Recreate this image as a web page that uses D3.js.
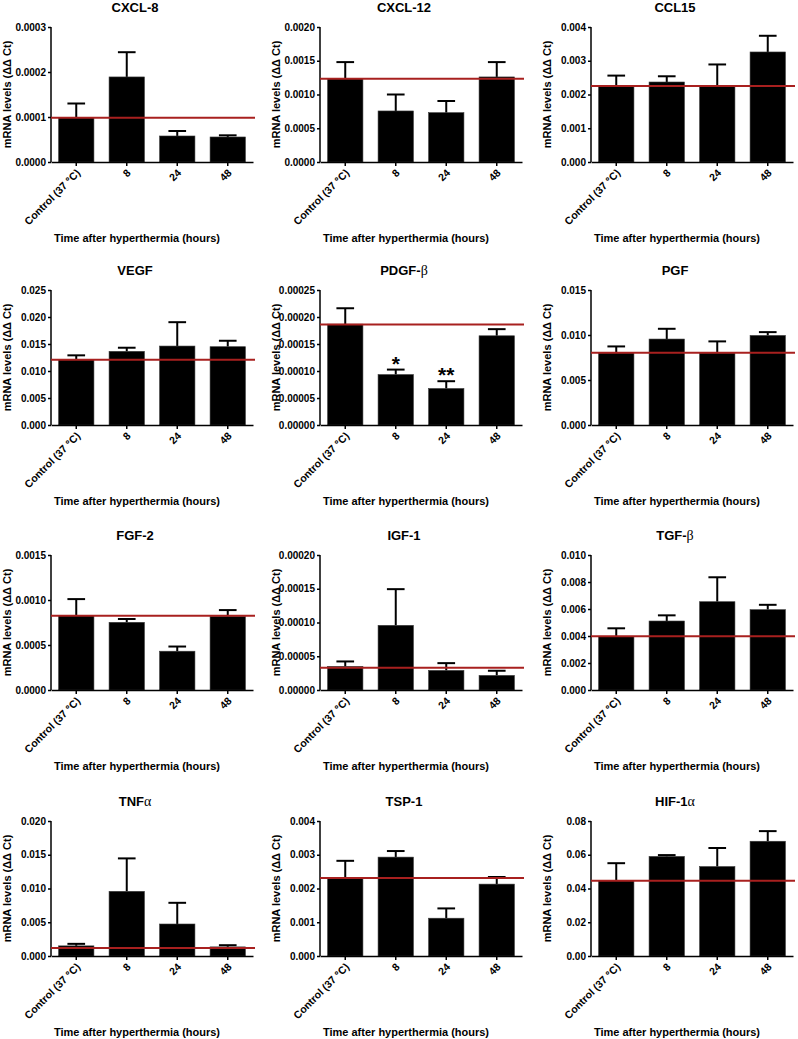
<!DOCTYPE html>
<html>
<head>
<meta charset="utf-8">
<script src="https://cdn.jsdelivr.net/npm/d3@7"></script>
<style>
  html, body { margin: 0; padding: 0; background: #fff; }
  svg { display: block; font-family: "Liberation Sans", Arial, sans-serif; }
</style>
</head>
<body>
<svg id="chart" width="798" height="1039"></svg>
<script>
// ---------- data ----------
const genes = ["CXCL-8", "CXCL-12", "CCL15", "VEGF", "PDGF-β", "PGF",
               "FGF-2", "IGF-1", "TGF-β", "TNFα", "TSP-1", "HIF-1α"];
const categories = ["Control (37 °C)", "8", "24", "48"];
const meanValues = [
  [0.0000985, 0.000189, 0.0000578, 0.0000556],
  [0.001235, 0.000756, 0.000731, 0.00126],
  [0.00225, 0.00237, 0.00225, 0.00326],
  [0.0121, 0.01364, 0.01462, 0.0145],
  [0.0001867, 0.0000934, 0.0000676, 0.0001652],
  [0.0080, 0.00955, 0.0080, 0.00995],
  [0.000829, 0.000752, 0.000431, 0.000818],
  [0.0000349, 0.0000958, 0.000029, 0.0000216],
  [0.00398, 0.00511, 0.00654, 0.00595],
  [0.0015, 0.00958, 0.00474, 0.00135],
  [0.002314, 0.00293, 0.00112, 0.00213],
  [0.0446, 0.059, 0.053, 0.068]
];
const errorTops = [
  [0.00013, 0.000244, 0.0000689, 0.0000593],
  [0.00148, 0.0010, 0.000904, 0.00148],
  [0.00256, 0.00254, 0.00289, 0.00374],
  [0.0129, 0.01431, 0.01904, 0.0156],
  [0.0002162, 0.0001026, 0.0000811, 0.0001775],
  [0.00873, 0.01069, 0.00929, 0.01032],
  [0.00101, 0.000789, 0.000483, 0.000888],
  [0.0000423, 0.0001494, 0.0000398, 0.0000285],
  [0.00457, 0.00553, 0.00835, 0.00631],
  [0.0018, 0.01446, 0.00788, 0.0016],
  [0.00282, 0.00311, 0.00141, 0.00234],
  [0.055, 0.0598, 0.064, 0.074]
];
const controlLevels = [0.0000985, 0.001235, 0.00225, 0.0121, 0.000186, 0.00803,
                       0.000826, 0.0000329, 0.00398, 0.0012, 0.00231, 0.0446];
const yMaxes = [0.0003, 0.002, 0.004, 0.025, 0.00025, 0.015,
                0.0015, 0.0002, 0.010, 0.020, 0.004, 0.08];
const yTickSteps = [0.0001, 0.0005, 0.001, 0.005, 0.00005, 0.005,
                    0.0005, 0.00005, 0.002, 0.005, 0.001, 0.02];
const tickDecimals = [4, 4, 3, 3, 5, 3, 4, 5, 3, 3, 3, 2];
const sigMarks = [
  ["", "", "", ""], ["", "", "", ""], ["", "", "", ""],
  ["", "", "", ""], ["", "*", "**", ""], ["", "", "", ""],
  ["", "", "", ""], ["", "", "", ""], ["", "", "", ""],
  ["", "", "", ""], ["", "", "", ""], ["", "", "", ""]
];
const yAxisTitle = "mRNA levels (ΔΔ Ct)";
const xAxisTitle = "Time after hyperthermia (hours)";

// ---------- layout ----------
const colX = [51, 320, 591];
const rowY = [27, 290, 555, 821];
const plotW = 202, plotH = 135;
const red = "#a8201f";

const svg = d3.select("#chart");

function addGreekText(sel, str) {
  const parts = str.match(/[\u0370-\u03FF]+|[^\u0370-\u03FF]+/g);
  parts.forEach(p => {
    const t = sel.append("tspan").text(p);
    if (/[\u0370-\u03FF]/.test(p)) t.attr("font-family", "'Liberation Serif', serif")
      .attr("font-weight", "normal").attr("font-size", 14).attr("fill", "#000");
  });
}

genes.forEach((gene, gi) => {
  const col = gi % 3, row = Math.floor(gi / 3);
  const x0 = colX[col], y0 = rowY[row];
  const g = svg.append("g").attr("transform", `translate(${x0},${y0})`);

  const x = d3.scaleBand().domain(categories).range([0, plotW])
    .paddingInner(0.3).paddingOuter(0.15);
  const y = d3.scaleLinear().domain([0, yMaxes[gi]]).range([plotH, 0]);
  const nTicks = Math.round(yMaxes[gi] / yTickSteps[gi]);
  const tickVals = d3.range(nTicks + 1).map(i => i * yTickSteps[gi]);

  const rows = categories.map((c, i) => ({
    cat: c, mean: meanValues[gi][i], top: errorTops[gi][i], mark: sigMarks[gi][i]
  }));

  // error bars (upper only)
  const capW = x.bandwidth() * 0.5;
  const eb = g.append("g").attr("stroke", "#000").attr("stroke-width", 2);
  eb.selectAll("line.v").data(rows).join("line").attr("class", "v")
    .attr("x1", d => x(d.cat) + x.bandwidth() / 2)
    .attr("x2", d => x(d.cat) + x.bandwidth() / 2)
    .attr("y1", d => y(d.mean)).attr("y2", d => y(d.top));
  eb.selectAll("line.c").data(rows).join("line").attr("class", "c")
    .attr("x1", d => x(d.cat) + x.bandwidth() / 2 - capW / 2)
    .attr("x2", d => x(d.cat) + x.bandwidth() / 2 + capW / 2)
    .attr("y1", d => y(d.top)).attr("y2", d => y(d.top));

  // bars
  g.selectAll("rect.bar").data(rows).join("rect").attr("class", "bar")
    .attr("x", d => x(d.cat)).attr("width", x.bandwidth())
    .attr("y", d => y(d.mean)).attr("height", d => plotH - y(d.mean))
    .attr("fill", "#000").attr("stroke", "#3a3a3a").attr("stroke-width", 0.6);

  // significance marks
  g.selectAll("text.sig").data(rows.filter(d => d.mark)).join("text").attr("class", "sig")
    .attr("x", d => x(d.cat) + x.bandwidth() / 2)
    .attr("y", d => y(d.top) + 1)
    .attr("text-anchor", "middle").attr("font-size", 21).attr("font-weight", "bold")
    .text(d => d.mark);

  // y axis
  const fmt = d3.format(`.${tickDecimals[gi]}f`);
  const ya = g.append("g")
    .call(d3.axisLeft(y).tickValues(tickVals).tickFormat(fmt).tickSize(3).tickPadding(2));
  ya.select(".domain").attr("stroke-width", 1.5).attr("d", `M0,${plotH}V0`);
  ya.selectAll(".tick line").attr("stroke-width", 1.5);
  ya.selectAll("text").attr("font-size", 10).attr("font-weight", "bold")
    .attr("font-family", "'Liberation Sans', Arial, sans-serif").attr("fill", "#000");

  // x axis
  const xa = g.append("g").attr("transform", `translate(0,${plotH})`)
    .call(d3.axisBottom(x).tickSize(4).tickSizeOuter(0));
  xa.select(".domain").attr("stroke-width", 1.5);
  xa.selectAll(".tick line").attr("stroke-width", 1.5);
  xa.selectAll("text")
    .attr("font-size", 10.5).attr("font-weight", "bold")
    .attr("font-family", "'Liberation Sans', Arial, sans-serif").attr("fill", "#000")
    .attr("text-anchor", "end").attr("x", 0).attr("y", 0).attr("dy", "0.35em")
    .attr("transform", "translate(2,9) rotate(-45)");

  // control reference line (drawn on top)
  g.append("line")
    .attr("x1", 0).attr("x2", plotW + 2)
    .attr("y1", y(controlLevels[gi])).attr("y2", y(controlLevels[gi]))
    .attr("stroke", red).attr("stroke-width", 2);

  // title
  const t = g.append("text").attr("x", 84).attr("y", -15)
    .attr("text-anchor", "middle").attr("font-size", 13).attr("font-weight", "bold");
  addGreekText(t, gene);

  // y axis title
  g.append("text")
    .attr("transform", `translate(-40,${plotH / 2}) rotate(-90)`)
    .attr("text-anchor", "middle").attr("font-size", 11).attr("font-weight", "bold")
    .text(yAxisTitle);

  // x axis title
  g.append("text").attr("x", 86).attr("y", plotH + 80)
    .attr("text-anchor", "middle").attr("font-size", 11).attr("font-weight", "bold")
    .text(xAxisTitle);
});
</script>
</body>
</html>
